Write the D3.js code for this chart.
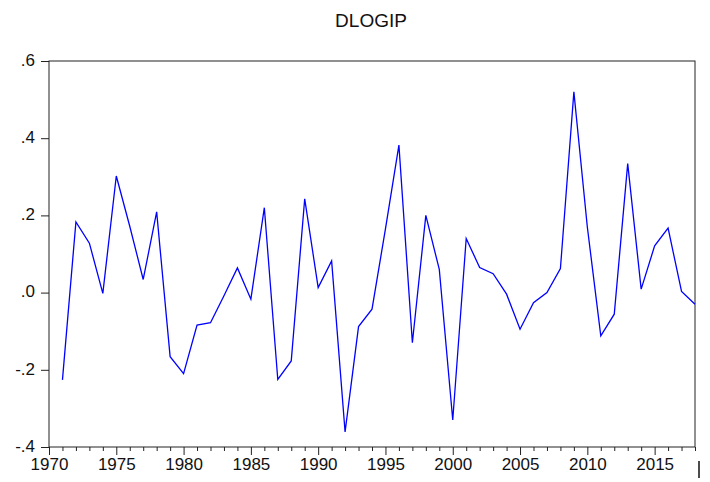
<!DOCTYPE html>
<html>
<head>
<meta charset="utf-8">
<script src="https://cdn.jsdelivr.net/npm/d3@7"></script>
<style>
  body { margin: 0; background: #fff; }
  text { font-family: "Liberation Sans", Arial, sans-serif; fill: #111; }
</style>
</head>
<body>
<div id="chart"></div>
<script>
let years = d3.range(1971, 2019);
let dlogip = [
  -0.226, 0.183, 0.128, -0.002, 0.302, 0.172, 0.034, 0.209, -0.166, -0.210,
  -0.084, -0.078, -0.008, 0.064, -0.017, 0.220, -0.225, -0.177, 0.243, 0.013,
  0.082, -0.361, -0.088, -0.043, 0.165, 0.382, -0.130, 0.200, 0.060, -0.330,
  0.140, 0.065, 0.049, -0.004, -0.095, -0.026, 0.000, 0.062, 0.520, 0.170,
  -0.112, -0.056, 0.334, 0.009, 0.121, 0.167, 0.003, -0.030
];
let yTicks = [0.6, 0.4, 0.2, 0.0, -0.2, -0.4];
let yTickLabels = ['.6', '.4', '.2', '.0', '-.2', '-.4'];
let xTicks = d3.range(1970, 2016, 5);

let width = 710, height = 482,
    margin = {left: 49, top: 61, right: 15, bottom: 35},
    plotWidth = width - margin.left - margin.right,
    plotHeight = height - margin.top - margin.bottom;

let svg = d3.select('#chart').append('svg')
    .attr('width', width)
    .attr('height', height);

svg.append('text')
    .attr('x', 371)
    .attr('y', 27)
    .attr('text-anchor', 'middle')
    .style('font-size', '19px')
    .text('DLOGIP');

let g = svg.append('g')
    .attr('transform', `translate(${margin.left}, ${margin.top})`);

let xScale = d3.scaleLinear()
    .domain([1970, 2018])
    .range([0, plotWidth]);

let yScale = d3.scaleLinear()
    .domain([-0.4, 0.6])
    .range([plotHeight, 0]);

// frame
g.append('rect')
    .attr('x', 0)
    .attr('y', 0)
    .attr('width', plotWidth)
    .attr('height', plotHeight)
    .attr('fill', 'none')
    .attr('stroke', '#222')
    .attr('stroke-width', 1);

// y axis
let yAxis = d3.axisLeft(yScale)
    .tickValues(yTicks)
    .tickSize(8)
    .tickPadding(6)
    .tickFormat((d, i) => yTickLabels[i]);

g.append('g')
    .call(yAxis)
    .call(a => a.select('.domain').remove())
    .call(a => a.selectAll('line').attr('stroke', '#222'))
    .call(a => a.selectAll('text')
        .style('font-size', '17px')
        .attr('dy', '0.25em'));

// x axis minor ticks
let xMinor = d3.axisBottom(xScale)
    .tickValues(d3.range(1970, 2019).filter(d => d % 5 !== 0))
    .tickSize(4)
    .tickFormat('');

g.append('g')
    .attr('transform', `translate(0, ${plotHeight})`)
    .call(xMinor)
    .call(a => a.select('.domain').remove())
    .call(a => a.selectAll('line').attr('stroke', '#222'));

// x axis major ticks
let xAxis = d3.axisBottom(xScale)
    .tickValues(xTicks)
    .tickSize(8)
    .tickPadding(3)
    .tickFormat(d3.format('d'));

g.append('g')
    .attr('transform', `translate(0, ${plotHeight})`)
    .call(xAxis)
    .call(a => a.select('.domain').remove())
    .call(a => a.selectAll('line').attr('stroke', '#222'))
    .call(a => a.selectAll('text').style('font-size', '17px'));

// cut-off end label marker
g.append('line')
    .attr('x1', xScale(2018) + 4)
    .attr('x2', xScale(2018) + 4)
    .attr('y1', plotHeight + 14)
    .attr('y2', plotHeight + 31)
    .attr('stroke', '#111')
    .attr('stroke-width', 1.5);

// series line
let line = d3.line()
    .x((d, i) => xScale(years[i]))
    .y(d => yScale(d));

g.append('path')
    .datum(dlogip)
    .attr('fill', 'none')
    .attr('stroke', '#0000ff')
    .attr('stroke-width', 1.3)
    .attr('d', line);
</script>
</body>
</html>
